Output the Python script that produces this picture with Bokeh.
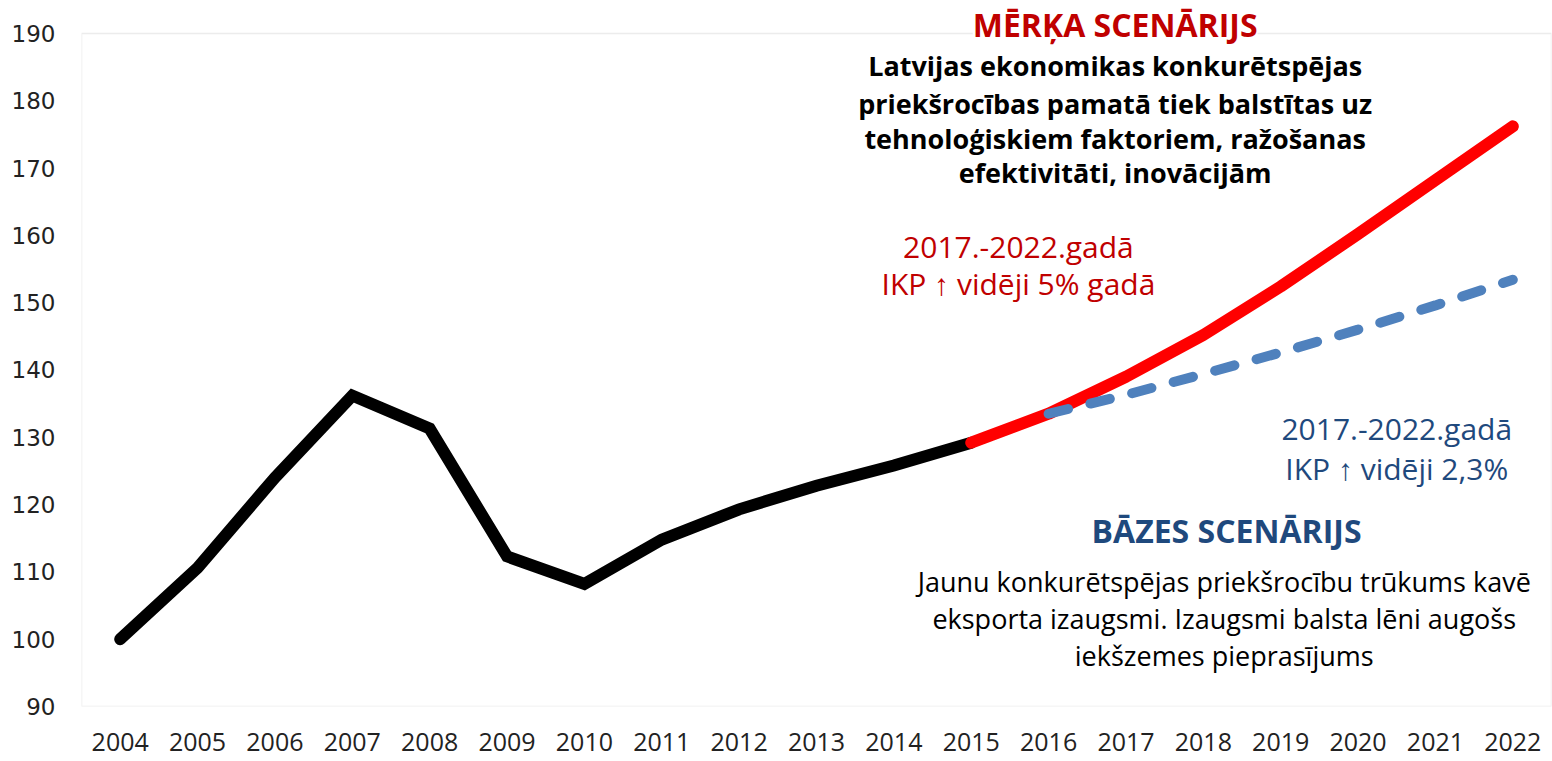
from bokeh.plotting import figure
from bokeh.models import FixedTicker, Range1d, Label, BoxAnnotation
from bokeh.embed import file_html
from bokeh.resources import INLINE

years_hist = [2004, 2005, 2006, 2007, 2008, 2009, 2010, 2011, 2012, 2013, 2014, 2015]
values_hist = [100.0, 110.6, 124.0, 136.2, 131.3, 112.3, 108.2, 114.8, 119.3, 122.8, 125.8, 129.2]

years_target = [2015, 2016, 2017, 2018, 2019, 2020, 2021, 2022]
values_target = [129.2, 133.5, 139.0, 145.2, 152.4, 160.2, 168.2, 176.2]

years_base = [2016, 2017, 2018, 2019, 2020, 2021, 2022]
values_base = [133.5, 136.3, 139.4, 142.6, 146.0, 149.6, 153.4]

tick_years = list(range(2004, 2023))
y_ticks = [90, 100, 110, 120, 130, 140, 150, 160, 170, 180, 190]
Y_MIN, Y_MAX = 90, 190

RED_T = "#C00000"
BLUE_T = "#1F497D"

p = figure(width=1552, height=761, output_backend="svg", toolbar_location=None,
           x_range=Range1d(2003.5, 2022.5), y_range=Range1d(Y_MIN, 194.9),
           min_border_left=81, min_border_right=1, min_border_top=0, min_border_bottom=55)
p.xgrid.visible = False
p.ygrid.visible = False
p.outline_line_color = None
p.background_fill_color = "white"
p.border_fill_color = "white"

# plot-area border (gray box from 90 to 190)
p.add_layout(BoxAnnotation(bottom=Y_MIN, top=Y_MAX, fill_color=None, fill_alpha=0,
                           line_color="#BFBFBF", line_width=1.5, level="underlay"))

p.xaxis.ticker = FixedTicker(ticks=tick_years)
p.yaxis.ticker = FixedTicker(ticks=y_ticks)
for ax in (p.xaxis, p.yaxis):
    ax.axis_line_color = None
    ax.major_tick_line_color = None
    ax.minor_tick_line_color = None
    ax.major_tick_out = 0
    ax.major_tick_in = 0
    ax.major_label_text_color = "#222222"
p.xaxis.major_label_text_font = "Open Sans"
p.xaxis.major_label_text_font_size = "25px"
p.xaxis.major_label_standoff = 26
p.yaxis.major_label_text_font = "DejaVu Sans"
p.yaxis.major_label_text_font_size = "23px"
p.yaxis.major_label_standoff = 26

p.line(years_hist, values_hist, line_color="black", line_width=12, line_join="miter", line_cap="round")
p.line(years_target, values_target, line_color="#FF0000", line_width=12, line_join="round", line_cap="round")
p.line(years_base, values_base, line_color="#4F81BD", line_width=10, line_dash="20 23", line_cap="round")

def lab(x, y, text, size, color, bold=False, bg=None):
    p.add_layout(Label(x=x, y=y, text=text, text_font="Open Sans", text_font_size=size,
                       text_color=color, text_align="center", text_baseline="middle",
                       text_font_style="bold" if bold else "normal",
                       background_fill_color=bg, level="overlay"))

lab(2016.86, 191.34, "MĒRĶA SCENĀRIJS", "32px", RED_T, True, bg="white")
lab(2016.86, 185.25, "Latvijas ekonomikas konkurētspējas", "27px", "black", True)
lab(2016.86, 179.6, "priekšrocības pamatā tiek balstītas uz", "27px", "black", True)
lab(2016.86, 174.4, "tehnoloģiskiem faktoriem, ražošanas", "27px", "black", True)
lab(2016.86, 169.35, "efektivitāti, inovācijām", "27px", "black", True)

lab(2015.61, 158.4, "2017.-2022.gadā", "30px", RED_T)
lab(2015.61, 152.9, "IKP ↑ vidēji 5% gadā", "30px", RED_T)

lab(2020.50, 131.3, "2017.-2022.gadā", "30px", BLUE_T)
lab(2020.50, 125.4, "IKP ↑ vidēji 2,3%", "30px", BLUE_T)

lab(2018.30, 116.2, "BĀZES SCENĀRIJS", "32px", BLUE_T, True)
lab(2018.27, 108.6, "Jaunu konkurētspējas priekšrocību trūkums kavē", "27px", "black")
lab(2018.27, 103.1, "eksporta izaugsmi. Izaugsmi balsta lēni augošs", "27px", "black")
lab(2018.27, 97.6, "iekšzemes pieprasījums", "27px", "black")

open("out.html", "w").write(file_html(p, INLINE))
